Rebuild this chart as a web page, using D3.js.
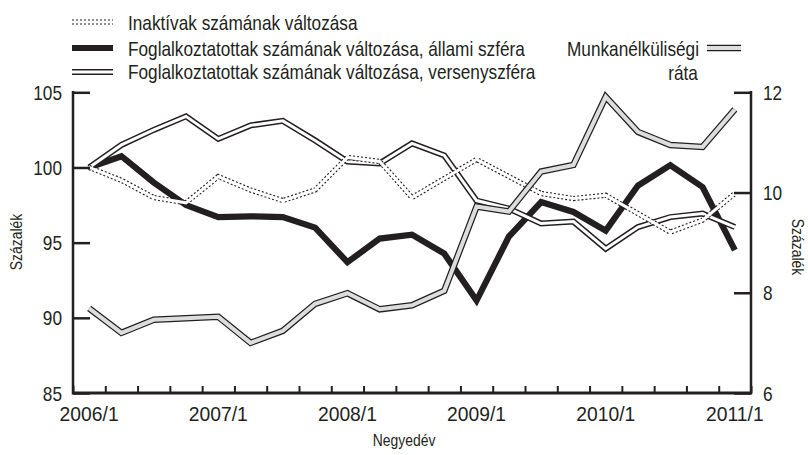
<!DOCTYPE html>
<html>
<head>
<meta charset="utf-8">
<script src="https://cdn.jsdelivr.net/npm/d3@7"></script>
<style>
  body { margin: 0; background: #fff; }
  text { font-family: "Liberation Sans", Arial, sans-serif; fill: #231f20; }
</style>
</head>
<body>
<div id="vis-svg"></div>
<script>
// quarters on the category axis
var quarters = ["2006/1", "2006/2", "2006/3", "2006/4", "2007/1", "2007/2", "2007/3", "2007/4",
  "2008/1", "2008/2", "2008/3", "2008/4", "2009/1", "2009/2", "2009/3", "2009/4",
  "2010/1", "2010/2", "2010/3", "2010/4", "2011/1"];
var xLabels = ["2006/1", "2007/1", "2008/1", "2009/1", "2010/1", "2011/1"];

// left axis, percent (2006/1 = 100)
var inaktiv = [100.0, 99.15, 98.0, 97.65, 99.4, 98.5, 97.8, 98.5, 100.67, 100.4, 98.0,
  99.27, 100.53, 99.4, 98.27, 97.93, 98.15, 96.93, 95.7, 96.5, 98.27];
var allami = [100.0, 100.75, 99.0, 97.5, 96.7, 96.75, 96.7, 96.0, 93.7, 95.27, 95.53,
  94.27, 91.15, 95.4, 97.7, 97.04, 95.8, 98.8, 100.15, 98.7, 94.5];
var verseny = [100.0, 101.5, 102.5, 103.4, 101.9, 102.8, 103.1, 101.8, 100.4, 100.27, 101.6,
  100.8, 97.8, 97.27, 96.27, 96.4, 94.6, 96.04, 96.7, 96.93, 96.04];
// right axis, unemployment rate (%)
var munkanelk = [7.69, 7.2, 7.46, 7.49, 7.52, 7.0, 7.24, 7.78, 7.99, 7.67, 7.75,
  8.04, 9.72, 9.62, 10.42, 10.55, 11.91, 11.21, 10.95, 10.91, 11.66];

var leftTicks = [85, 90, 95, 100, 105];
var rightTicks = [6, 8, 10, 12];

var width = 808;
var height = 455;
var plotLeft = 73, plotRight = 751, plotTop = 92.3, plotBottom = 393;
var ink = "#231f20";

var svg = d3.select("#vis-svg")
  .append("svg")
  .attr("width", width)
  .attr("height", height);

var x = d3.scaleLinear().domain([-0.5, quarters.length - 0.5]).range([plotLeft, plotRight]);
var yL = d3.scaleLinear().domain([85, 105]).range([plotBottom, plotTop]);
var yR = d3.scaleLinear().domain([6, 12]).range([plotBottom, plotTop]);

var lineL = d3.line().x(function(d, i) { return x(i); }).y(function(d) { return yL(d); });
var lineR = d3.line().x(function(d, i) { return x(i); }).y(function(d) { return yR(d); });

// narrow text: Liberation Sans squeezed to the width of a condensed face
function label(g, px, py, str, size, anchor, rot, sx) {
  return g.append("text")
    .attr("transform", "translate(" + px + "," + py + ")" + (rot ? " rotate(" + rot + ")" : "") +
      " scale(" + (sx || 0.82) + ",1)")
    .attr("text-anchor", anchor || "start")
    .attr("font-size", size)
    .text(str);
}

// series, drawn in the order the overlaps show
function drawLine(g, gen, data) {
  return g.append("path").datum(data).attr("d", gen)
    .attr("fill", "none").attr("stroke-linejoin", "miter").attr("stroke-miterlimit", 3);
}
var lines = svg.append("g");
drawLine(lines, lineL, allami).attr("stroke", ink).attr("stroke-width", 6.2);
drawLine(lines, lineL, verseny).attr("stroke", ink).attr("stroke-width", 6);
drawLine(lines, lineL, verseny).attr("stroke", "#fff").attr("stroke-width", 3);
drawLine(lines, lineL, inaktiv).attr("stroke", ink).attr("stroke-width", 5.2)
  .attr("stroke-dasharray", "2,2");
drawLine(lines, lineL, inaktiv).attr("stroke", "#fff").attr("stroke-width", 3);
drawLine(lines, lineR, munkanelk).attr("stroke", ink).attr("stroke-width", 6.5);
drawLine(lines, lineR, munkanelk).attr("stroke", "#dcdddd").attr("stroke-width", 4);

// axes
var axisL = svg.append("g").attr("transform", "translate(" + plotLeft + ",0)")
  .call(d3.axisRight(yL).tickValues(leftTicks).tickSize(17).tickFormat(""));
var axisR = svg.append("g").attr("transform", "translate(" + plotRight + ",0)")
  .call(d3.axisLeft(yR).tickValues(rightTicks).tickSize(17).tickFormat(""));
var axisX = svg.append("g").attr("transform", "translate(0," + plotBottom + ")")
  .call(d3.axisTop(x).tickValues(d3.range(quarters.length + 1).map(function(i) { return i - 0.5; }))
    .tickSize(7).tickFormat(""));

[axisL, axisR, axisX].forEach(function(a) {
  a.selectAll(".domain").remove();
  a.selectAll("line").attr("stroke", ink).attr("stroke-width", 2.5);
});
axisX.selectAll("line").attr("stroke-width", 2);

svg.append("line").attr("x1", plotLeft).attr("x2", plotLeft).attr("y1", plotTop - 1.2).attr("y2", plotBottom + 1.5)
  .attr("stroke", ink).attr("stroke-width", 2.5);
svg.append("line").attr("x1", plotRight).attr("x2", plotRight).attr("y1", plotTop - 1.2).attr("y2", plotBottom + 1.5)
  .attr("stroke", ink).attr("stroke-width", 2.5);
svg.append("line").attr("x1", plotLeft).attr("x2", plotRight).attr("y1", plotBottom).attr("y2", plotBottom)
  .attr("stroke", ink).attr("stroke-width", 3);

// tick labels
var tickG = svg.append("g");
leftTicks.forEach(function(d) { label(tickG, plotLeft - 11, yL(d) + 7.5, d, 21, "end"); });
rightTicks.forEach(function(d) { label(tickG, plotRight + 12, yR(d) + 7.5, d, 21, "start"); });
xLabels.forEach(function(d) { label(tickG, x(quarters.indexOf(d)), 420.5, d, 21, "middle", 0, 0.92); });

// axis titles
label(svg, 22, 242, "Százalék", 17, "middle", -90);
label(svg, 792, 247, "Százalék", 17, "middle", 90);
label(svg, 404, 446, "Negyedév", 17, "middle");

// legend
var legend = svg.append("g");
legend.append("line").attr("x1", 72).attr("x2", 113).attr("y1", 22).attr("y2", 22)
  .attr("stroke", ink).attr("stroke-width", 5).attr("stroke-dasharray", "2,2");
legend.append("line").attr("x1", 72).attr("x2", 113).attr("y1", 22).attr("y2", 22)
  .attr("stroke", "#fff").attr("stroke-width", 3);
label(legend, 128, 29.5, "Inaktívak számának változása", 21);
legend.append("line").attr("x1", 72).attr("x2", 113).attr("y1", 48).attr("y2", 48)
  .attr("stroke", ink).attr("stroke-width", 6);
label(legend, 128, 55.5, "Foglalkoztatottak számának változása, állami szféra", 21);
legend.append("line").attr("x1", 72).attr("x2", 113).attr("y1", 72).attr("y2", 72)
  .attr("stroke", ink).attr("stroke-width", 6);
legend.append("line").attr("x1", 72).attr("x2", 113).attr("y1", 72).attr("y2", 72)
  .attr("stroke", "#fff").attr("stroke-width", 3);
label(legend, 128, 79, "Foglalkoztatottak számának változása, versenyszféra", 21);

legend.append("line").attr("x1", 707).attr("x2", 741).attr("y1", 48).attr("y2", 48)
  .attr("stroke", ink).attr("stroke-width", 6.5);
legend.append("line").attr("x1", 707).attr("x2", 741).attr("y1", 48).attr("y2", 48)
  .attr("stroke", "#dcdddd").attr("stroke-width", 4);
label(legend, 699, 55.5, "Munkanélküliségi", 21, "end");
label(legend, 683, 80, "ráta", 21, "middle");
</script>
</body>
</html>
